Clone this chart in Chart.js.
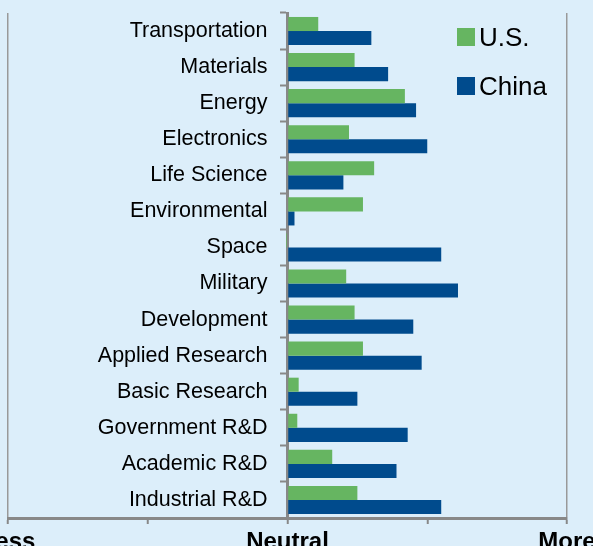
<!DOCTYPE html>
<html>
<head>
<meta charset="utf-8">
<script src="https://cdn.jsdelivr.net/npm/chart.js@4.4.1/dist/chart.umd.min.js"></script>
<style>
  html, body { margin: 0; padding: 0; background: #dceefa; overflow: hidden; }
</style>
</head>
<body>
<canvas id="myChartBar" width="593" height="546"></canvas>
<script>
const categorias = ['Transportation', 'Materials', 'Energy', 'Electronics', 'Life Science',
  'Environmental', 'Space', 'Military', 'Development', 'Applied Research',
  'Basic Research', 'Government R&D', 'Academic R&D', 'Industrial R&D'];
const us = [0.11, 0.24, 0.42, 0.22, 0.31, 0.27, -0.005, 0.21, 0.24, 0.27, 0.04, 0.035, 0.16, 0.25];
const china = [0.30, 0.36, 0.46, 0.50, 0.20, 0.025, 0.55, 0.61, 0.45, 0.48, 0.25, 0.43, 0.39, 0.55];
const xTicks = { '-1': 'Less', '0': 'Neutral', '1': 'More' };

const fonte = '"Liberation Sans", Arial, sans-serif';

// legenda desenhada dentro da area do grafico
const legendaDentro = {
  id: 'legendaDentro',
  afterDraw(chart) {
    const c = chart.ctx;
    const area = chart.chartArea;
    c.save();
    c.font = '26px ' + fonte;
    c.textBaseline = 'alphabetic';
    c.textAlign = 'left';
    chart.data.datasets.forEach((ds, i) => {
      const x = area.right - 110;
      const y = area.top + 15 + i * 49;
      c.fillStyle = ds.backgroundColor;
      c.fillRect(x, y, 18, 18);
      c.fillStyle = '#000';
      c.fillText(ds.label, x + 22, y + 18);
    });
    c.restore();
  }
};

const ctx = document.getElementById('myChartBar');
let graphBar = new Chart(ctx, {
  type: 'bar',
  plugins: [legendaDentro],
  data: {
    labels: categorias,
    datasets: [{
      label: 'U.S.',
      data: us,
      backgroundColor: '#66b561',
    },
    {
      label: 'China',
      data: china,
      backgroundColor: '#004b8d',
    }]
  },
  options: {
    indexAxis: 'y',
    responsive: false,
    animation: false,
    categoryPercentage: 0.78,
    barPercentage: 1,
    layout: { padding: { left: 8, right: 26, top: 13, bottom: 0 } },
    plugins: {
      legend: { display: false },
      tooltip: { enabled: false }
    },
    scales: {
      x: {
        min: -1,
        max: 1,
        afterFit(scale) {
          scale.height = 28;
          scale.paddingLeft = 0;
          scale.paddingRight = 0;
        },
        ticks: {
          stepSize: 0.5,
          autoSkip: false,
          maxRotation: 0,
          padding: 4,
          color: '#000',
          font: { family: fonte, size: 24, weight: 'bold' },
          callback: (v) => xTicks[String(v)] || ''
        },
        grid: {
          color: (c) => (c.tick && Math.abs(c.tick.value) === 1) ? '#999999' : 'rgba(0,0,0,0)',
          lineWidth: 1.5,
          tickColor: '#888888',
          tickWidth: 2,
          tickLength: 6
        },
        border: { display: true, color: '#888888', width: 3 }
      },
      y: {
        position: 'center',
        afterFit(scale) {
          scale.paddingTop = 0;
          scale.paddingBottom = 0;
        },
        ticks: {
          padding: 14,
          color: '#000',
          font: { family: fonte, size: 21.5 }
        },
        grid: {
          offset: true,
          drawOnChartArea: false,
          color: '#888888',
          tickColor: '#888888',
          tickWidth: 2,
          tickLength: 6
        },
        border: { display: true, color: '#888888', width: 3 }
      }
    }
  }
});
</script>
</body>
</html>
